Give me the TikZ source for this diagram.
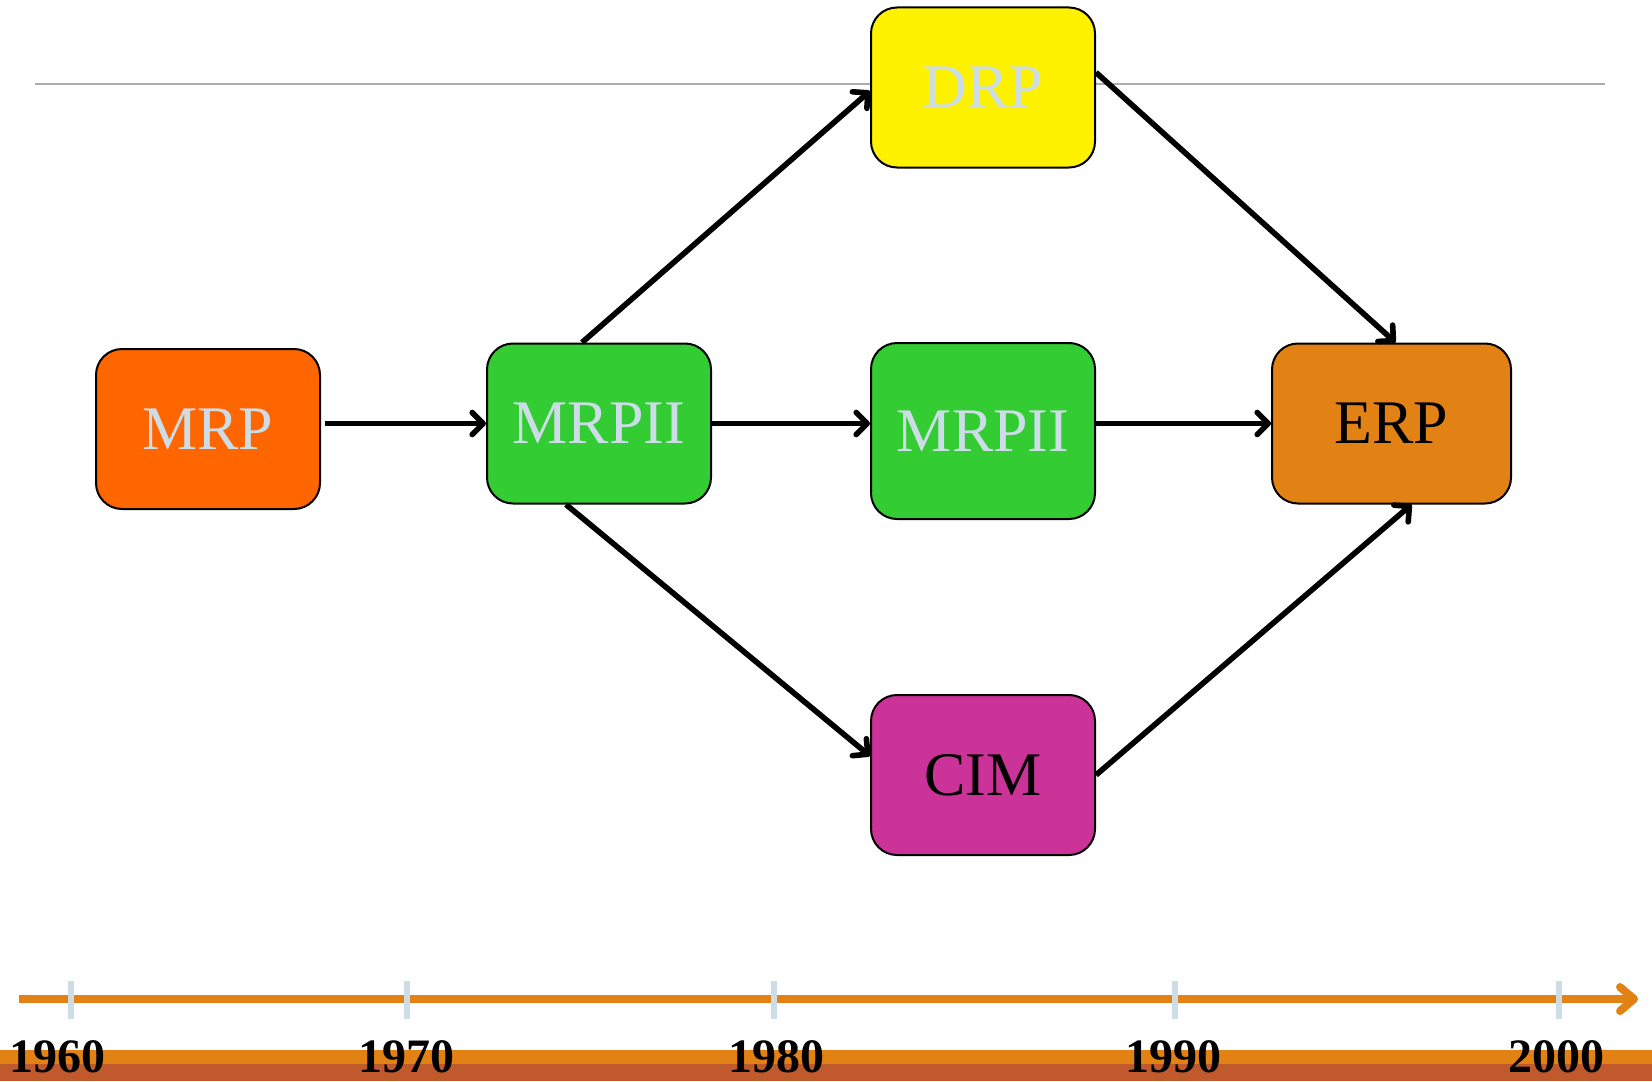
\documentclass[tikz,border=0pt]{standalone}
\usepackage{fontspec}
\setmainfont{Liberation Serif}
\usetikzlibrary{arrows.meta}
\definecolor{boxtext}{HTML}{CCDDE8}
\definecolor{mrporange}{HTML}{FF6600}
\definecolor{mrpgreen}{HTML}{33CC33}
\definecolor{cimpink}{HTML}{CC3399}
\definecolor{erporange}{HTML}{E38214}
\definecolor{lineorange}{HTML}{E38214}
\definecolor{bandbrown}{HTML}{C0592C}
\definecolor{tickblue}{HTML}{CCDDE8}
\begin{document}
\begin{tikzpicture}[x=0.5pt,y=-0.5pt,
  box/.style={draw=black, line width=1pt, rounded corners=13pt, minimum width=112pt, minimum height=80pt, inner sep=0pt, font=\fontsize{31}{36}\selectfont},
  flow/.style={draw, line width=2.8pt, -{Straight Barb[length=5.5pt,width=11pt,round]}}]
\useasboundingbox (0,0) rectangle (1652,1081);
%top line
\path[draw, gray!65, line width=1pt] (35,84) -- (1605,84);
%bottom band
\path[fill=lineorange] (0,1050) rectangle (1652,1064);
\path[fill=bandbrown] (0,1064) rectangle (1652,1081);
%timeline
\path[draw, line width=4pt, lineorange, -{Straight Barb[length=7pt,width=12pt,round]}] (19,999) -- (1638,999);
\foreach \x in {71,407,774,1175,1559}{
    \path[draw, tickblue, line width=3pt] (\x,981) -- (\x,1019);
}
\foreach \x/\yr in {58/1960,406/1970,776/1980,1173/1990,1556/2000}{
    \node[anchor=base, inner sep=0, font=\fontsize{24}{28}\selectfont\bfseries] at (\x,1072){\yr};
}
%boxes
\node[box, fill=mrporange, text=boxtext] (mrp) at (208,429){MRP};
\node[box, fill=mrpgreen, text=boxtext] (mrpiiA) at (599,423.5){MRPII};
\node[box, fill=mrpgreen, text=boxtext, minimum height=88pt] (mrpiiB) at (983,431){MRPII};
\node[box, fill=yellow, text=boxtext] (drp) at (983,87.5){DRP};
\node[box, fill=cimpink] (cim) at (983,775){CIM};
\node[box, fill=erporange, minimum width=119.5pt] (erp) at (1391.5,423.5){ERP};
%arrows
\path[flow, shorten <=2pt] (mrp.east |- mrpiiA) -- (mrpiiA.west);
\path[flow] (mrpiiA.east) -- (mrpiiA.east -| mrpiiB.west);
\path[flow] (mrpiiB.east |- erp) -- (erp.west);
\path[flow] ([xshift=-8.5pt]mrpiiA.north) -- ([yshift=-1.75pt]drp.west);
\path[flow] ([yshift=7.5pt]drp.east) -- ([xshift=2pt]erp.north);
\path[flow] ([xshift=-16.5pt]mrpiiA.south) -- ([yshift=9.5pt]cim.west);
\path[flow] (cim.east) -- ([xshift=10pt]erp.south);
\end{tikzpicture}
\end{document}
